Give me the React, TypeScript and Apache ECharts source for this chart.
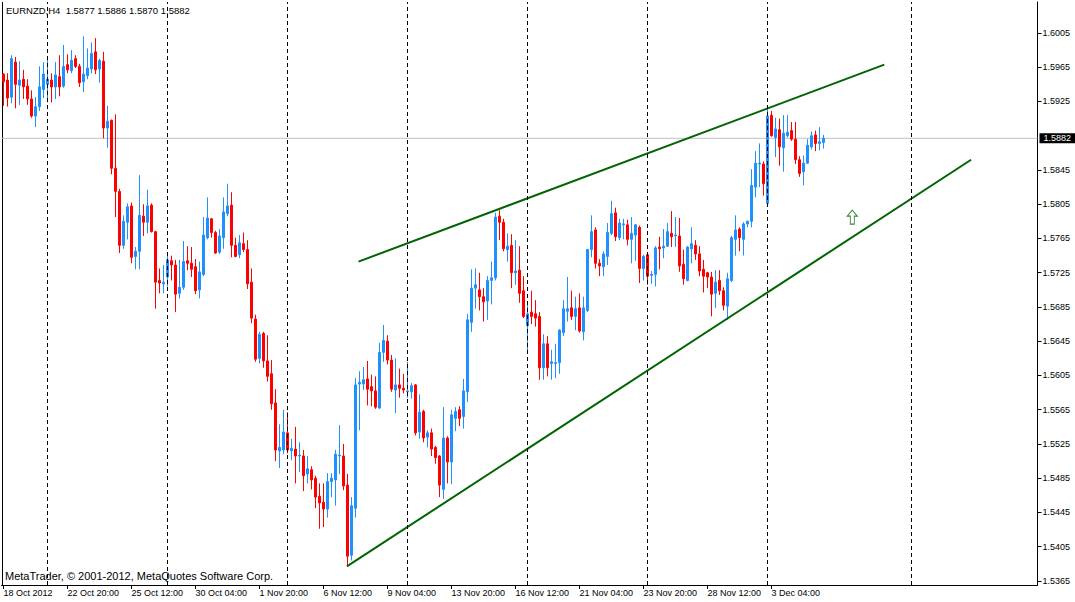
import React, { useEffect, useRef } from "react";
import * as echarts from "echarts";

const SYMBOL = "EURNZD,H4";
const LAST_OHLC = [1.5877, 1.5886, 1.587, 1.5882];
const COPYRIGHT = "MetaTrader, © 2001-2012, MetaQuotes Software Corp.";

const OPEN = [
  1.5957, 1.595, 1.593, 1.5971, 1.5944, 1.5951, 1.5943, 1.5928, 1.5908, 1.5919,
  1.5939, 1.5945, 1.595, 1.5942, 1.5954, 1.5943, 1.5968, 1.5961, 1.5975, 1.5966,
  1.5948, 1.5955, 1.5963, 1.5983, 1.5963, 1.5972, 1.5894, 1.5903, 1.5847, 1.582,
  1.5757, 1.5784, 1.5803, 1.5744, 1.575, 1.5791, 1.5784, 1.5804, 1.5773, 1.5716,
  1.5712, 1.572, 1.5739, 1.5734, 1.5701, 1.5708, 1.5739, 1.5736, 1.5732, 1.5705,
  1.5723, 1.5766, 1.5788, 1.5772, 1.5749, 1.5766, 1.5794, 1.5804, 1.5757, 1.5746,
  1.5759, 1.5752, 1.5714, 1.5671, 1.5625, 1.5654, 1.5622, 1.5607, 1.5573, 1.5517,
  1.5518, 1.5538, 1.5517, 1.5519, 1.5511, 1.5511, 1.549, 1.5495, 1.5485, 1.5464,
  1.5457, 1.5449, 1.5481, 1.5483, 1.5511, 1.5511, 1.5477, 1.5395, 1.545, 1.5595,
  1.5595, 1.5601, 1.5592, 1.5587, 1.5567, 1.5632, 1.5645, 1.5623, 1.5588, 1.5594,
  1.559, 1.5586, 1.5586, 1.5594, 1.5539, 1.5563, 1.5533, 1.5538, 1.5521, 1.5511,
  1.5472, 1.5532, 1.5504, 1.5555, 1.5565, 1.5557, 1.5586, 1.5667, 1.5707, 1.5705,
  1.5697, 1.5692, 1.5716, 1.5719, 1.5791, 1.5784, 1.5752, 1.5757, 1.5725, 1.5728,
  1.5704, 1.5663, 1.5679, 1.5677, 1.5674, 1.5614, 1.5642, 1.5619, 1.5619, 1.562,
  1.5655, 1.568, 1.5684, 1.5674, 1.5684, 1.5656, 1.5681, 1.5752, 1.5775, 1.5736,
  1.5732, 1.5744, 1.5771, 1.5795, 1.5766, 1.5781, 1.5781, 1.5764, 1.5769, 1.5778,
  1.573, 1.5746, 1.5722, 1.5723, 1.5755, 1.5754, 1.5756, 1.5771, 1.5768, 1.5768,
  1.5735, 1.5716, 1.5753, 1.5757, 1.5747, 1.5729, 1.5725, 1.572, 1.5701, 1.5716,
  1.5704, 1.5686, 1.5716, 1.5764, 1.5776, 1.5764, 1.5782, 1.5785, 1.5825, 1.5852,
  1.5852, 1.5806, 1.5909, 1.5883, 1.5892, 1.5871, 1.5885, 1.5891, 1.5881, 1.5857,
  1.5843, 1.5853, 1.5872, 1.5886, 1.5876, 1.5877,
];
const HIGH = [
  1.5958, 1.5958, 1.5979, 1.5977, 1.5972, 1.5962, 1.5951, 1.5938, 1.593, 1.5966,
  1.5971, 1.5976, 1.5958, 1.5971, 1.5979, 1.5991, 1.598, 1.5985, 1.5979, 1.5969,
  1.6001, 1.5987, 1.5994, 1.5999, 1.5975, 1.5983, 1.592, 1.5904, 1.591, 1.5823,
  1.5792, 1.5806, 1.5807, 1.5755, 1.5839, 1.5805, 1.5822, 1.5806, 1.5774, 1.573,
  1.5734, 1.5749, 1.5745, 1.574, 1.574, 1.5762, 1.5756, 1.5755, 1.5741, 1.5738,
  1.579, 1.5813, 1.5789, 1.5774, 1.5776, 1.5813, 1.5829, 1.5819, 1.5766, 1.5769,
  1.5772, 1.5763, 1.573, 1.5676, 1.5656, 1.5656, 1.5652, 1.5623, 1.5589, 1.5548,
  1.5565, 1.5562, 1.5531, 1.5545, 1.5527, 1.5518, 1.5511, 1.5499, 1.5488, 1.5479,
  1.5479, 1.5491, 1.5491, 1.5518, 1.5547, 1.5525, 1.549, 1.5463, 1.5602, 1.561,
  1.5615, 1.5622, 1.5606, 1.5604, 1.5643, 1.5664, 1.5652, 1.5629, 1.5625, 1.5613,
  1.5607, 1.5621, 1.5596, 1.5595, 1.5583, 1.5565, 1.5541, 1.5543, 1.5523, 1.5512,
  1.5568, 1.5534, 1.5565, 1.5568, 1.5569, 1.5601, 1.5677, 1.5729, 1.573, 1.5725,
  1.5707, 1.5721, 1.5738, 1.5795, 1.5798, 1.5788, 1.5771, 1.577, 1.5763, 1.5756,
  1.5721, 1.5692, 1.5704, 1.5693, 1.5679, 1.5653, 1.5651, 1.5635, 1.5642, 1.5659,
  1.5693, 1.572, 1.5704, 1.5697, 1.5701, 1.5697, 1.5753, 1.5792, 1.5778, 1.5741,
  1.575, 1.5783, 1.5809, 1.5801, 1.5788, 1.5788, 1.5787, 1.579, 1.5782, 1.578,
  1.5746, 1.5747, 1.5727, 1.5756, 1.5767, 1.5776, 1.5783, 1.5797, 1.579, 1.5789,
  1.5752, 1.5756, 1.5778, 1.5763, 1.5756, 1.574, 1.5726, 1.5726, 1.5728, 1.5728,
  1.5708, 1.5725, 1.5768, 1.5792, 1.5778, 1.5784, 1.5786, 1.5846, 1.5867, 1.5876,
  1.5855, 1.592, 1.5914, 1.5906, 1.5905, 1.5909, 1.5909, 1.5901, 1.5901, 1.5861,
  1.5862, 1.5881, 1.589, 1.5891, 1.5895, 1.5886,
];
const LOW = [
  1.592, 1.5919, 1.5923, 1.5917, 1.5921, 1.5928, 1.5921, 1.5906, 1.5895, 1.5914,
  1.5929, 1.5924, 1.5924, 1.5928, 1.5931, 1.5941, 1.5958, 1.5958, 1.5964, 1.5942,
  1.5936, 1.5951, 1.5958, 1.5957, 1.5947, 1.5882, 1.5871, 1.584, 1.579, 1.5748,
  1.5753, 1.5764, 1.5736, 1.5729, 1.5729, 1.5768, 1.5771, 1.5772, 1.5683, 1.5701,
  1.5701, 1.5709, 1.5716, 1.5679, 1.5695, 1.5705, 1.5728, 1.572, 1.57, 1.5695,
  1.5721, 1.5764, 1.5766, 1.5747, 1.5747, 1.5753, 1.5791, 1.5743, 1.5743, 1.5742,
  1.5749, 1.5706, 1.5666, 1.5621, 1.5619, 1.5614, 1.5598, 1.5565, 1.5505, 1.5497,
  1.5513, 1.5514, 1.5506, 1.5479, 1.5492, 1.547, 1.5479, 1.5472, 1.545, 1.5426,
  1.5428, 1.5439, 1.5463, 1.5453, 1.549, 1.5471, 1.5382, 1.5389, 1.5439, 1.5541,
  1.5588, 1.557, 1.5569, 1.5566, 1.5566, 1.5621, 1.5618, 1.5586, 1.5561, 1.5579,
  1.5584, 1.5579, 1.5578, 1.5535, 1.5531, 1.5527, 1.5521, 1.5511, 1.5502, 1.5463,
  1.5461, 1.5479, 1.5478, 1.554, 1.5546, 1.5543, 1.5574, 1.5656, 1.5683, 1.5681,
  1.5668, 1.567, 1.5688, 1.5716, 1.5763, 1.575, 1.5738, 1.5707, 1.5711, 1.569,
  1.5672, 1.5631, 1.5665, 1.5662, 1.56, 1.56, 1.5604, 1.56, 1.5602, 1.5607,
  1.5651, 1.5668, 1.567, 1.5658, 1.5655, 1.5646, 1.5679, 1.5743, 1.573, 1.5721,
  1.5721, 1.5734, 1.5769, 1.5762, 1.5763, 1.5764, 1.5757, 1.5736, 1.5739, 1.5713,
  1.5716, 1.5711, 1.5712, 1.5709, 1.5729, 1.5742, 1.5755, 1.5755, 1.5755, 1.5726,
  1.5711, 1.5715, 1.5736, 1.574, 1.5721, 1.5702, 1.5707, 1.5674, 1.5684, 1.5699,
  1.5681, 1.567, 1.5714, 1.5745, 1.575, 1.5745, 1.5778, 1.5778, 1.5813, 1.5825,
  1.5815, 1.5805, 1.5884, 1.586, 1.585, 1.5843, 1.5883, 1.5879, 1.5852, 1.5837,
  1.5827, 1.5852, 1.5869, 1.5867, 1.5868, 1.587,
];
const CLOSE = [
  1.5948, 1.5929, 1.5975, 1.5945, 1.595, 1.5942, 1.5928, 1.5908, 1.5919, 1.5942,
  1.5957, 1.5951, 1.5942, 1.5956, 1.5942, 1.5966, 1.5962, 1.5973, 1.5966, 1.5947,
  1.5957, 1.5964, 1.5981, 1.5962, 1.5973, 1.5894, 1.5902, 1.5847, 1.582, 1.5757,
  1.5785, 1.5802, 1.5743, 1.575, 1.5792, 1.5784, 1.5803, 1.5773, 1.5714, 1.5713,
  1.5714, 1.574, 1.5734, 1.57, 1.5708, 1.5738, 1.5736, 1.5729, 1.5704, 1.5726,
  1.5769, 1.5789, 1.5772, 1.5748, 1.5768, 1.5796, 1.5803, 1.5757, 1.5744, 1.576,
  1.5752, 1.5712, 1.5672, 1.5624, 1.5653, 1.5622, 1.5604, 1.5572, 1.5518, 1.5521,
  1.5539, 1.5518, 1.552, 1.5511, 1.5512, 1.5488, 1.5496, 1.5483, 1.5463, 1.5456,
  1.5449, 1.5481, 1.5485, 1.5513, 1.5512, 1.5476, 1.5394, 1.5453, 1.5594, 1.5597,
  1.56, 1.5589, 1.5587, 1.5568, 1.5632, 1.5646, 1.5623, 1.5589, 1.5594, 1.559,
  1.5588, 1.5587, 1.5593, 1.5538, 1.5562, 1.5532, 1.5538, 1.5519, 1.5509, 1.5477,
  1.5532, 1.5504, 1.5559, 1.5563, 1.5555, 1.5587, 1.567, 1.5707, 1.5711, 1.5697,
  1.5691, 1.5716, 1.5719, 1.579, 1.5784, 1.5753, 1.5756, 1.5725, 1.5727, 1.5701,
  1.5674, 1.5677, 1.5674, 1.5672, 1.5614, 1.5642, 1.5614, 1.5621, 1.562, 1.5658,
  1.5683, 1.5683, 1.5674, 1.5683, 1.5657, 1.5684, 1.5752, 1.5773, 1.5736, 1.5733,
  1.5747, 1.5772, 1.5794, 1.5767, 1.5783, 1.5782, 1.5764, 1.5771, 1.5781, 1.573,
  1.5744, 1.5721, 1.5723, 1.5754, 1.5753, 1.5756, 1.5773, 1.5767, 1.5769, 1.5733,
  1.5718, 1.5755, 1.5759, 1.5747, 1.5727, 1.5721, 1.572, 1.57, 1.5714, 1.5704,
  1.5687, 1.5718, 1.5766, 1.5775, 1.5766, 1.5782, 1.5785, 1.5827, 1.5853, 1.5853,
  1.5829, 1.5908, 1.5885, 1.5893, 1.5872, 1.5888, 1.5889, 1.5881, 1.5857, 1.5841,
  1.5853, 1.5874, 1.5885, 1.5876, 1.5878, 1.5882,
];

// bar slots on the time axis, including the empty shift area on the right
const SLOTS = 259;
const TICK_EVERY = 16;
const TICK_LABELS = [
  "18 Oct 2012", "22 Oct 20:00", "25 Oct 12:00", "30 Oct 04:00", "1 Nov 20:00",
  "6 Nov 12:00", "9 Nov 04:00", "13 Nov 20:00", "16 Nov 12:00", "21 Nov 04:00",
  "23 Nov 20:00", "28 Nov 12:00", "3 Dec 04:00",
];
const PRICE_TICKS = [
  1.5365, 1.5405, 1.5445, 1.5485, 1.5525, 1.5565, 1.5605, 1.5645, 1.5685,
  1.5725, 1.5765, 1.5805, 1.5845, 1.5885, 1.5925, 1.5965, 1.6005,
];
const PRICE_TICKS_SHOWN = PRICE_TICKS.filter((v) => v !== 1.5885);
const Y_MIN = 1.53603;
const Y_MAX = 1.60412;

// weekly period separators (bar index)
const SEPARATORS = [11, 41, 71, 101, 131, 161, 191, 227];
// channel lines drawn by hand: [bar index, price]
const UPPER_LINE = [
  [88.75, 1.5738],
  [220.2, 1.5968],
];
const LOWER_LINE = [
  [85.85, 1.5382],
  [241.9, 1.5857],
];
const ARROW = [212.2, 1.579];

const FONT = "'Liberation Sans', Arial, sans-serif";
const BULL = "#1E90FF";
const BEAR = "#FF0000";
const TREND = "#006400";

export default function App() {
  const ref = useRef<HTMLDivElement>(null);

  useEffect(() => {
    if (!ref.current) return;
    const chart = echarts.init(ref.current, undefined, { renderer: "svg" });
    const categories = Array.from({ length: SLOTS }, (_, i) => String(i));
    const showTick = (index: number) =>
      index % TICK_EVERY === 0 && index / TICK_EVERY < TICK_LABELS.length;
    const lastPrice = LAST_OHLC[3];

    const option: any = {
      animation: false,
      backgroundColor: "#ffffff",
      grid: { left: 1.5, top: 2, width: 1036, height: 583, containLabel: false },
      xAxis: [
        {
          type: "category",
          data: categories,
          boundaryGap: true,
          axisLine: { show: true, onZero: false, lineStyle: { color: "#000", width: 1 } },
          axisTick: {
            show: true,
            alignWithLabel: true,
            interval: showTick,
            length: 4,
            lineStyle: { color: "#000", width: 1 },
          },
          axisLabel: {
            show: true,
            interval: showTick,
            formatter: (_v: string, i: number) => TICK_LABELS[i / TICK_EVERY] ?? "",
            align: "left",
            margin: 3,
            fontSize: 9,
            color: "#000",
            fontFamily: FONT,
          },
          splitLine: { show: false },
        },
        { type: "value", min: -0.5, max: SLOTS - 0.5, show: false },
      ],
      yAxis: {
        type: "value",
        position: "right",
        min: Y_MIN,
        max: Y_MAX,
        axisLine: { show: true, onZero: false, lineStyle: { color: "#000", width: 1 } },
        axisTick: {
          show: true,
          customValues: PRICE_TICKS_SHOWN,
          length: 4,
          lineStyle: { color: "#000", width: 1 },
        },
        axisLabel: {
          customValues: PRICE_TICKS_SHOWN,
          formatter: (v: number) => v.toFixed(4),
          margin: 5,
          fontSize: 9,
          color: "#000",
          fontFamily: FONT,
        },
        splitLine: { show: false },
      },
      graphic: [
        {
          type: "line",
          shape: { x1: 2.5, y1: 2, x2: 2.5, y2: 585 },
          style: { stroke: "#000", lineWidth: 1 },
          silent: true,
        },
        {
          type: "text",
          x: 6,
          y: 10.5,
          style: {
            text: SYMBOL + "  " + LAST_OHLC.map((v) => v.toFixed(4)).join(" "),
            fontSize: 9.5,
            fontFamily: FONT,
            fill: "#000",
            verticalAlign: "middle",
          },
          silent: true,
          z: 10,
        },
        {
          type: "text",
          x: 5,
          y: 576,
          style: {
            text: COPYRIGHT,
            fontSize: 11,
            fontFamily: FONT,
            fill: "#000",
            verticalAlign: "middle",
          },
          silent: true,
          z: 10,
        },
      ],
      series: [
        {
          type: "line",
          xAxisIndex: 1,
          yAxisIndex: 0,
          data: [],
          z: 1,
          silent: true,
          markLine: {
            silent: true,
            symbol: ["none", "none"],
            animation: false,
            label: { show: false },
            lineStyle: { color: "#000", type: [4, 3], width: 1 },
            data: SEPARATORS.map((s) => ({ xAxis: s })),
          },
        },
        {
          type: "line",
          xAxisIndex: 1,
          yAxisIndex: 0,
          z: 1,
          silent: true,
          symbol: "none",
          data: [
            [-0.5, lastPrice],
            [SLOTS - 0.5, lastPrice],
          ],
          lineStyle: { color: "#C0C0C0", type: "solid", width: 1 },
          endLabel: {
            show: true,
            distance: 2,
            formatter: () => lastPrice.toFixed(4),
            backgroundColor: "#000",
            color: "#fff",
            padding: [1, 4, 0, 4],
            fontSize: 9,
            lineHeight: 9,
            fontFamily: FONT,
          },
        },
        {
          type: "candlestick",
          xAxisIndex: 0,
          yAxisIndex: 0,
          z: 2,
          barWidth: 2,
          data: OPEN.map((o, i) => [o, CLOSE[i], LOW[i], HIGH[i]]),
          itemStyle: {
            color: BULL,
            color0: BEAR,
            borderColor: BULL,
            borderColor0: BEAR,
            borderWidth: 1,
          },
        },
        {
          type: "line",
          xAxisIndex: 1,
          yAxisIndex: 0,
          z: 3,
          data: UPPER_LINE,
          symbol: "none",
          silent: true,
          lineStyle: { color: TREND, width: 2 },
        },
        {
          type: "line",
          xAxisIndex: 1,
          yAxisIndex: 0,
          z: 3,
          data: LOWER_LINE,
          symbol: "none",
          silent: true,
          lineStyle: { color: TREND, width: 2 },
        },
        {
          type: "scatter",
          xAxisIndex: 1,
          yAxisIndex: 0,
          z: 3,
          data: [ARROW],
          symbol: "path://M5 0L10 6L7 6L7 14L3 14L3 6L0 6Z",
          symbolSize: [10, 14],
          silent: true,
          itemStyle: { color: "#fff", borderColor: TREND, borderWidth: 1 },
        },
      ],
    };

    chart.setOption(option);
    return () => chart.dispose();
  }, []);

  return (
    <div
      ref={ref}
      style={{
        position: "fixed",
        left: 0,
        top: 0,
        width: 1075,
        height: 602,
        background: "#fff",
      }}
    />
  );
}
